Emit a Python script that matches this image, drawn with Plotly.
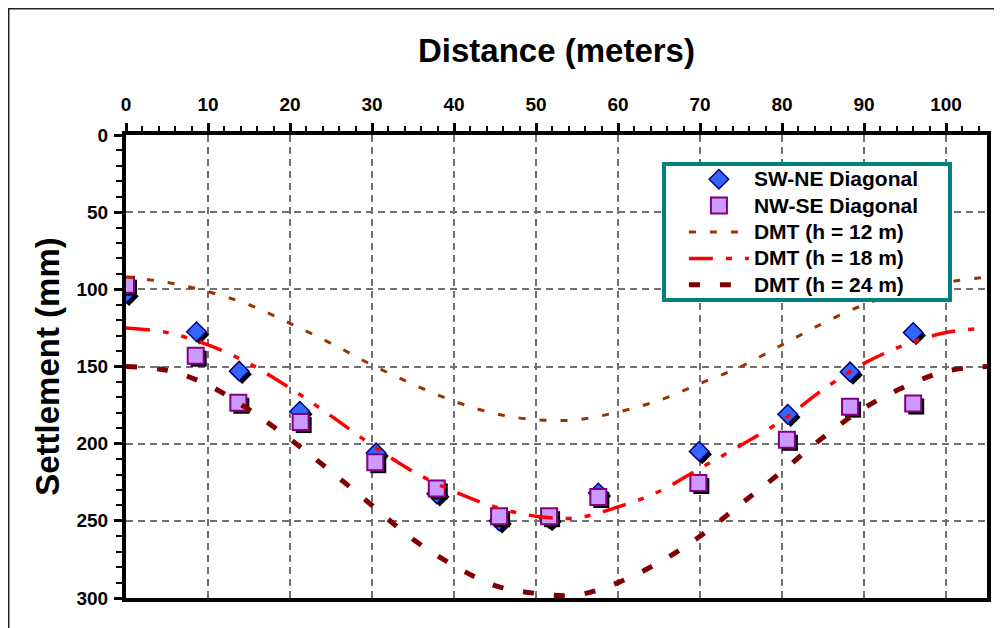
import plotly.graph_objects as go

# measured settlements (mm) along the two diagonals
swne_x = [0, 8.6, 13.8, 21.2, 30.5, 37.9, 45.5, 51.6, 57.6, 69.9, 80.7, 88.3, 96.0]
swne_y = [102.5, 127.5, 153, 179, 206, 232.5, 250, 248.5, 232, 205, 181, 153.5, 128]

nwse_x = [0, 8.5, 13.7, 21.3, 30.4, 37.9, 45.5, 51.6, 57.6, 69.8, 80.6, 88.3, 96.0]
nwse_y = [97, 143, 173.5, 186, 212, 229, 247, 247, 234.5, 225.5, 197.5, 176, 174]

# DMT predictions
dmt_x = [0, 5, 10, 15, 20, 25, 30, 35, 40, 45, 50, 55, 60, 65, 70, 75, 80, 85, 90, 95, 100, 105]
dmt_12 = [92, 95.5, 101.5, 110, 122, 135, 149, 161.5, 172.5, 180.5, 184.5, 184.5, 179.5, 172,
          161, 150, 136, 122, 110, 101, 95.5, 92]
dmt_18 = [125, 128, 136, 148, 164, 182, 201, 218, 231, 241, 247, 248, 241, 231,
          216, 201, 185, 165, 148, 136, 128, 125]
dmt_24 = [150, 152.5, 162, 178, 197, 218, 240, 262, 279, 292, 297, 298, 290, 277,
          260, 239, 218, 196, 177, 163, 153, 150]

FONT = "Liberation Sans, Arial, sans-serif"


def leg(txt):
    return '<span style="font-size:21px">' + txt + '</span>'


# shadow offset: about 3 px right / 3 px down
sx = 3 * 105 / 861
sy = 3 * 300 / 463

fig = go.Figure()

# drop shadows of markers
fig.add_trace(go.Scatter(x=[v + sx for v in swne_x], y=[v + sy for v in swne_y], mode='markers',
                         marker=dict(symbol='diamond', size=15, color='black'),
                         showlegend=False, hoverinfo='skip'))
fig.add_trace(go.Scatter(x=swne_x, y=swne_y, mode='markers', name=leg('SW-NE Diagonal'),
                         marker=dict(symbol='diamond', size=15, color='#3366FF',
                                     line=dict(color='#000080', width=1.5))))
fig.add_trace(go.Scatter(x=[v + sx for v in nwse_x], y=[v + sy for v in nwse_y], mode='markers',
                         marker=dict(symbol='square', size=16, color='black'),
                         showlegend=False, hoverinfo='skip'))
fig.add_trace(go.Scatter(x=nwse_x, y=nwse_y, mode='markers', name=leg('NW-SE Diagonal'),
                         marker=dict(symbol='square', size=16, color='#CC99FF',
                                     line=dict(color='#800080', width=2))))

fig.add_trace(go.Scatter(x=dmt_x, y=dmt_12, mode='lines', name=leg('DMT (h = 12 m)'),
                         line=dict(color='#993300', width=3, dash='7px,14px', shape='spline')))
fig.add_trace(go.Scatter(x=dmt_x, y=dmt_18, mode='lines', name=leg('DMT (h = 18 m)'),
                         line=dict(color='#FF0000', width=3.5,
                                   dash='24px,13px,6px,13px,6px,13px', shape='spline')))
fig.add_trace(go.Scatter(x=dmt_x, y=dmt_24, mode='lines', name=leg('DMT (h = 24 m)'),
                         line=dict(color='#800000', width=5, dash='11px,20px', shape='spline')))

fig.update_xaxes(
    side='top', range=[0, 105], dtick=10, tick0=0, automargin=False,
    ticks='outside', ticklen=8, tickwidth=3, tickcolor='black',
    minor=dict(dtick=2, ticks='outside', ticklen=5, tickwidth=2, tickcolor='black', showgrid=False),
    showline=True, linewidth=4, linecolor='black', mirror=True,
    showgrid=True, gridcolor='#707070', gridwidth=1.5, griddash='7px,5px',
    zeroline=False, ticklabelstandoff=4,
    tickfont=dict(family=FONT, size=19, color='black', weight='bold'),
    title=dict(text='Distance (meters)', standoff=23,
               font=dict(family=FONT, size=33, color='black', weight='bold')),
)
fig.update_yaxes(
    range=[300, 0], dtick=50, tick0=0, automargin=False,
    ticks='outside', ticklen=8, tickwidth=3, tickcolor='black',
    minor=dict(dtick=10, ticks='outside', ticklen=6, tickwidth=2, tickcolor='black', showgrid=False),
    showline=True, linewidth=4, linecolor='black', mirror=True,
    showgrid=True, gridcolor='#707070', gridwidth=1.5, griddash='7px,5px',
    zeroline=False, ticklabelstandoff=2,
    tickfont=dict(family=FONT, size=19, color='black', weight='bold'),
    title=dict(text='Settlement (mm)', standoff=8,
               font=dict(family=FONT, size=33, color='black', weight='bold')),
)

fig.update_layout(
    width=1002, height=628,
    margin=dict(l=118, r=23, t=127, b=38),
    paper_bgcolor='white', plot_bgcolor='white',
    font=dict(family=FONT, color='black'),
    showlegend=True,
    legend=dict(x=0.648, y=0.9438, xanchor='left', yanchor='top',
                bgcolor='rgba(0,0,0,0)', borderwidth=0, itemwidth=60,
                tracegroupgap=0,
                font=dict(family=FONT, size=18, color='black', weight='bold')),
    shapes=[
        # legend box
        dict(type='rect', xref='paper', yref='paper', x0=0.6249, x1=0.957, y0=0.6436, y1=0.9374,
             line=dict(color='#008080', width=4), fillcolor='white', layer='above'),
        # outer chart frame
        dict(type='rect', xref='paper', yref='paper', x0=-0.1362, x1=1.06, y0=-0.2, y1=1.2727,
             line=dict(color='#222222', width=1.5), fillcolor='rgba(0,0,0,0)', layer='below'),
    ],
)

fig.write_html("out.html")
